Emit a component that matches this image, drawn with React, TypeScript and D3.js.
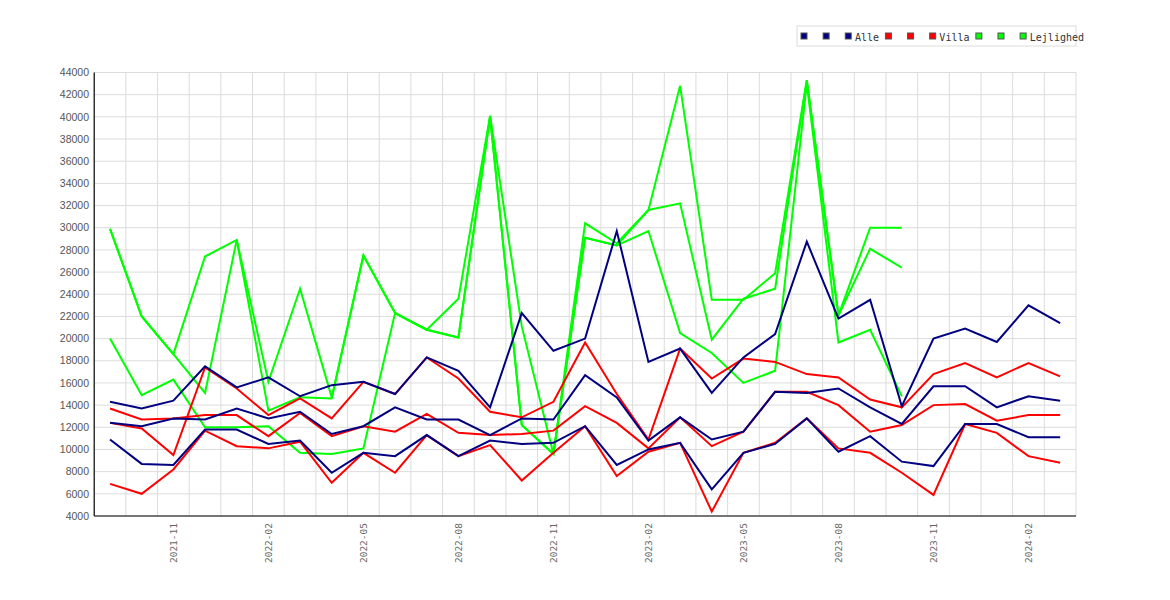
import React from "react";
import * as d3 from "d3";

// Months 2021-09 .. 2024-03
const months: string[] = [
  "2021-09","2021-10","2021-11","2021-12","2022-01","2022-02","2022-03","2022-04","2022-05","2022-06",
  "2022-07","2022-08","2022-09","2022-10","2022-11","2022-12","2023-01","2023-02","2023-03","2023-04",
  "2023-05","2023-06","2023-07","2023-08","2023-09","2023-10","2023-11","2023-12","2024-01","2024-02","2024-03",
];

const xTickLabels: string[] = ["2021-11","2022-02","2022-05","2022-08","2022-11","2023-02","2023-05","2023-08","2023-11","2024-02"];
const yTicks: number[] = d3.range(4000, 44001, 2000);

// Alle (navy)
const alleA: (number | null)[] = [14300,13700,14400,17500,15600,16500,14800,15800,16100,15000,18300,17100,13800,22300,18900,20000,29700,17900,19100,15100,18300,20400,28750,21800,23500,13900,20000,20900,19700,23000,21400];
const alleB: (number | null)[] = [12400,12100,12800,12700,13700,12800,13400,11400,12100,13800,12700,12700,11300,12800,12700,16700,14700,10800,12900,10900,11600,15200,15100,15500,13800,12300,15700,15700,13800,14800,14400];
const alleC: (number | null)[] = [10900,8700,8600,11800,11800,10500,10800,7900,9700,9400,11300,9400,10800,10500,10600,12100,8600,10000,10600,6400,9700,10500,12800,9800,11200,8900,8500,12300,12300,11100,11100];

// Villa (red)
const villaA: (number | null)[] = [13700,12700,12800,13100,13100,11200,13300,11200,12100,11600,13200,11500,11300,11400,11700,13900,12400,10100,12900,10300,11600,15200,15200,14000,11600,12200,14000,14100,12600,13100,13100];
const villaB: (number | null)[] = [12400,11900,9500,17400,15500,13100,14600,12800,16100,15000,18300,16400,13400,12900,14300,19650,15000,10900,19100,16400,18200,17900,16800,16500,14500,13800,16800,17800,16500,17800,16600];
const villaC: (number | null)[] = [6900,6000,8200,11700,10300,10100,10700,7000,9700,7900,11300,9400,10400,7200,9700,12100,7600,9800,10600,4400,9700,10600,12800,10100,9700,7900,5900,12300,11500,9400,8800];

// Lejlighed (green)
const lejA: (number | null)[] = [29900,22000,18600,27400,28900,16100,24500,14700,27500,22300,20800,23600,40100,21100,9600,30400,28600,31600,42800,23500,23500,25900,43300,22100,30000,30000,null,null,null,null,null];
const lejB: (number | null)[] = [29900,22000,18600,15100,28900,13500,14700,14600,27500,22300,20800,20100,40000,12200,9600,29100,28400,31600,32200,19900,23600,24500,43300,22100,28100,26400,null,null,null,null,null];
const lejC: (number | null)[] = [20000,14900,16300,12000,12000,12100,9700,9600,10100,22300,20800,20100,40000,12200,9600,29100,28400,29700,20500,18700,16000,17100,43000,19650,20800,14800,null,null,null,null,null];

const seriesNames: string[] = ["Alle", "Villa", "Lejlighed"];
const seriesColors: string[] = ["#000080", "#ff0000", "#00ff00"];

export default function App() {
  const W = 1170, H = 600;
  const x = d3.scaleLinear().domain([-0.5, months.length - 0.5]).range([94.2, 1076]);
  const y = d3.scaleLinear().domain([4000, 44000]).range([516, 72.5]);
  const line = d3
    .line<number | null>()
    .defined((d) => d != null)
    .x((_, i) => x(i))
    .y((d) => y(d as number));

  const groups: { color: string; data: (number | null)[][] }[] = [
    { color: seriesColors[2], data: [lejA, lejB, lejC] },
    { color: seriesColors[1], data: [villaA, villaB, villaC] },
    { color: seriesColors[0], data: [alleA, alleB, alleC] },
  ];

  // legend layout
  const charW = 6.02;
  const legendItems: { x: number; color: string; label: string }[] = [];
  let cur = 801;
  seriesNames.forEach((name, gi) => {
    const labels = [" ", " ", name];
    labels.forEach((lab) => {
      legendItems.push({ x: cur, color: seriesColors[gi], label: lab });
      cur += 9.7 + charW * lab.length + 6.4;
    });
  });

  const [x0, x1] = x.range();
  const [yb, yt] = y.range();

  return (
    <svg width={W} height={H} style={{ position: "absolute", left: 0, top: 0, background: "#fff" }}>
      <rect x={0} y={0} width={W} height={H} fill="#fff" />
      {/* horizontal grid */}
      {yTicks.map((t) => (
        <line key={"h" + t} x1={x0} x2={x1} y1={y(t)} y2={y(t)} stroke="#dcdcdc" strokeWidth={1} />
      ))}
      {/* vertical grid at month boundaries */}
      {months.map((m, i) => (
        <line key={"v" + m} x1={x(i + 0.5)} x2={x(i + 0.5)} y1={yt} y2={yb} stroke="#dcdcdc" strokeWidth={1} />
      ))}
      {/* y labels */}
      {yTicks.map((t) => (
        <text key={"yl" + t} x={89} y={y(t)} dy="0.35em" textAnchor="end" fontFamily="'Liberation Sans', Arial, sans-serif" fontSize={10.5} fill="#555">
          {t}
        </text>
      ))}
      {/* x labels */}
      {xTickLabels.map((lab) => {
        const i = months.indexOf(lab);
        return (
          <text key={"xl" + lab} transform={`translate(${x(i)},523) rotate(-90)`} dy="0.35em" textAnchor="end" fontFamily="'DejaVu Sans Mono', monospace" fontSize={9.5} fill="#666">
            {lab}
          </text>
        );
      })}
      {/* data lines */}
      {groups.map((g, gi) =>
        g.data.map((d, di) => (
          <path key={`p${gi}-${di}`} d={line(d) || ""} fill="none" stroke={g.color} strokeWidth={2} strokeLinejoin="miter" />
        ))
      )}
      {/* axes */}
      <line x1={x0} x2={x0} y1={yt} y2={yb} stroke="#000" strokeWidth={1.2} />
      <line x1={x0} x2={x1} y1={yb} y2={yb} stroke="#000" strokeWidth={1.2} />
      {/* legend */}
      <rect x={797} y={26} width={279} height={20} fill="#fff" stroke="#dcdcdc" strokeWidth={1} />
      {legendItems.map((it, k) => (
        <g key={"lg" + k}>
          <rect x={it.x} y={33} width={6} height={6} fill={it.color} stroke="#555" strokeWidth={1} />
          <text x={it.x + 9.7} y={40.5} fontFamily="'DejaVu Sans Mono', monospace" fontSize={10} fill="#333" style={{ whiteSpace: "pre" }}>
            {it.label}
          </text>
        </g>
      ))}
    </svg>
  );
}
